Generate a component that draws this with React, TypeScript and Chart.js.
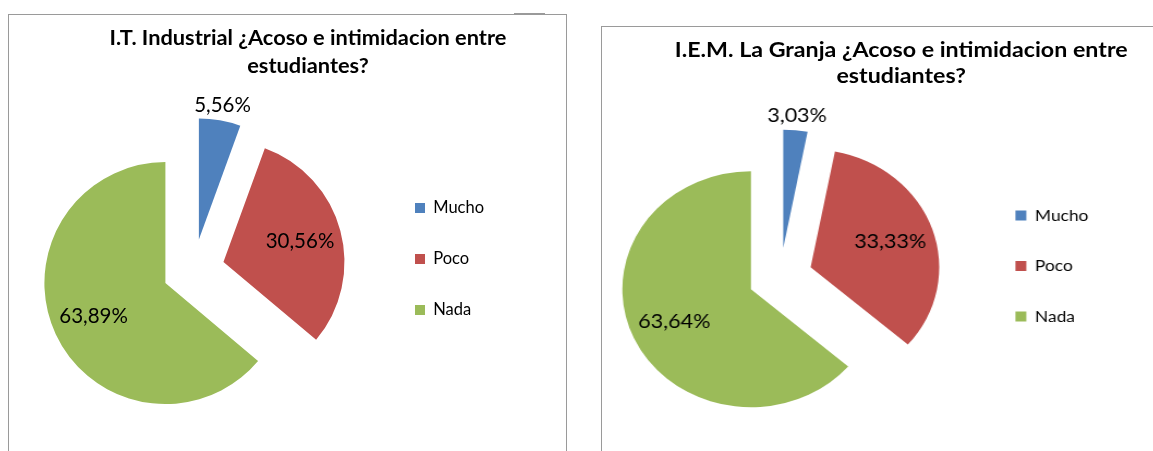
import { useEffect, useRef } from 'react';
import { Chart, registerables } from 'chart.js';

Chart.register(...registerables);

// ---- data ----
const categories = ['Mucho', 'Poco', 'Nada'];
const industrialValues = [5.56, 30.56, 63.89];
const granjaValues = [3.03, 33.33, 63.64];
const industrialTitle = ['I.T. Industrial ¿Acoso e intimidacion entre', 'estudiantes?'];
const granjaTitle = ['I.E.M. La Granja ¿Acoso e intimidacion entre', 'estudiantes?'];
const sliceColors = ['#4F81BD', '#C0504D', '#9BBB59'];

const FONT = 'Lato, "Open Sans", sans-serif';

type PanelCfg = {
  left: number;
  top: number;
  scaleX: number;
  width: number;
  height: number;
  pieX: number;
  pieY: number;
  radius: number;
  explode: number;
  legendX: number;
  legendY: number;
  legendStep: number;
  legendFont: number;
  labelFont: number;
  titleX: number;
  titleTop: number;
  titleFont: number;
  titleLine: number;
};

const leftCfg: PanelCfg = {
  left: 0,
  top: 15,
  scaleX: 1,
  width: 566,
  height: 436,
  pieX: 193.5,
  pieY: 255,
  radius: 121,
  explode: 31,
  legendX: 415,
  legendY: 193,
  legendStep: 51,
  legendFont: 16.5,
  labelFont: 20.5,
  titleX: 308,
  titleTop: 8.2,
  titleFont: 21.8,
  titleLine: 27.6,
};

const rightCfg: PanelCfg = {
  left: 579,
  top: 27,
  scaleX: 1.09,
  width: 527,
  height: 424,
  pieX: 184.6,
  pieY: 250,
  radius: 118,
  explode: 29.5,
  legendX: 400.4,
  legendY: 188.4,
  legendStep: 50.5,
  legendFont: 15.9,
  labelFont: 19.8,
  titleX: 295.6,
  titleTop: 8.5,
  titleFont: 21.3,
  titleLine: 26.7,
};

const formatPct = (v: number) => v.toFixed(2).replace('.', ',') + '%';

// moves every slice outward along its mid angle (exploded pie)
const explodePlugin = {
  id: 'explode',
  afterDatasetUpdate(_chart: any, args: any, opts: any) {
    const d = (opts && opts.distance) || 0;
    args.meta.data.forEach((el: any) => {
      const mid = (el.startAngle + el.endAngle) / 2;
      el.x += Math.cos(mid) * d;
      el.y += Math.sin(mid) * d;
    });
  },
};

// percentage labels: inside for large slices, outside for small ones
const sliceLabelPlugin = {
  id: 'sliceLabels',
  afterDatasetsDraw(chart: any, _args: any, opts: any) {
    const ctx = chart.ctx as CanvasRenderingContext2D;
    const meta = chart.getDatasetMeta(0);
    const data = chart.data.datasets[0].data as number[];
    const total = data.reduce((a, b) => a + b, 0);
    ctx.save();
    ctx.font = `${opts.size}px ${FONT}`;
    ctx.fillStyle = '#000000';
    ctx.textAlign = 'center';
    ctx.textBaseline = 'middle';
    meta.data.forEach((el: any, i: number) => {
      const mid = (el.startAngle + el.endAngle) / 2;
      const share = data[i] / total;
      const dist = share < 0.1 ? el.outerRadius + opts.outside : el.outerRadius * opts.inside;
      ctx.fillText(formatPct(data[i]), el.x + Math.cos(mid) * dist, el.y + Math.sin(mid) * dist);
    });
    ctx.restore();
  },
};

function PiePanel({ cfg, values, title }: { cfg: PanelCfg; values: number[]; title: string[] }) {
  const ref = useRef<HTMLCanvasElement>(null);

  useEffect(() => {
    const canvas = ref.current!;
    const ctx = canvas.getContext('2d')!;
    ctx.font = `${cfg.legendFont}px ${FONT}`;
    const textW = Math.max(...categories.map((c) => ctx.measureText(c).width));
    const boxW = 10;
    const pad = cfg.legendStep - cfg.legendFont;
    const spanR = cfg.legendX + boxW + cfg.legendFont / 2 + textW + 10;
    const legendLeft = cfg.legendX - pad;
    const top = cfg.legendY - pad - cfg.legendFont / 2;
    const padding = {
      left: 2 * cfg.pieX - legendLeft,
      right: cfg.width - spanR,
      top,
      bottom: cfg.height + top - 2 * cfg.pieY,
    };

    const chart = new Chart(canvas, {
      type: 'pie',
      data: {
        labels: categories,
        datasets: [
          {
            data: values,
            backgroundColor: sliceColors,
            borderWidth: 0,
            radius: cfg.radius,
            clip: false,
            hoverOffset: 0,
          } as any,
        ],
      },
      options: {
        responsive: false,
        animation: false,
        events: [],
        layout: { padding },
        plugins: {
          title: { display: false },
          tooltip: { enabled: false },
          legend: {
            position: 'right',
            align: 'start',
            labels: {
              boxWidth: boxW,
              boxHeight: 10,
              padding: pad,
              color: '#000000',
              font: { family: FONT, size: cfg.legendFont },
            },
          },
          explode: { distance: cfg.explode },
          sliceLabels: { size: cfg.labelFont, inside: 0.655, outside: 15 },
        } as any,
      },
      plugins: [explodePlugin, sliceLabelPlugin],
    });
    return () => chart.destroy();
  }, [cfg, values]);

  return (
    <div
      style={{
        position: 'absolute',
        left: cfg.left,
        top: cfg.top,
        width: cfg.width,
        height: cfg.height,
        transform: `scaleX(${cfg.scaleX})`,
        transformOrigin: '0 0',
      }}
    >
      <canvas
        ref={ref}
        width={cfg.width}
        height={cfg.height}
        style={{ position: 'absolute', left: 0, top: 0, width: cfg.width, height: cfg.height }}
      />
      <div
        style={{
          position: 'absolute',
          left: cfg.titleX - 300,
          width: 600,
          top: cfg.titleTop,
          textAlign: 'center',
          fontFamily: FONT,
          fontWeight: 'bold',
          fontSize: cfg.titleFont,
          lineHeight: `${cfg.titleLine}px`,
          color: '#000000',
          whiteSpace: 'nowrap',
        }}
      >
        {title.map((t) => (
          <div key={t}>{t}</div>
        ))}
      </div>
    </div>
  );
}

export default function App() {
  const border = '1px solid #9a9a9a';
  return (
    <div
      style={{
        position: 'absolute',
        left: 0,
        top: 0,
        width: 1153,
        height: 451,
        overflow: 'hidden',
        background: '#ffffff',
      }}
    >
      <div
        style={{
          position: 'absolute',
          left: 8,
          top: 14,
          width: 559,
          height: 520,
          border,
          boxSizing: 'border-box',
        }}
      />
      <div style={{ position: 'absolute', left: 514, top: 13, width: 31, height: 1, background: '#9a9a9a' }} />
      <div
        style={{
          position: 'absolute',
          left: 601,
          top: 26,
          width: 700,
          height: 520,
          border,
          boxSizing: 'border-box',
        }}
      />
      <PiePanel cfg={leftCfg} values={industrialValues} title={industrialTitle} />
      <PiePanel cfg={rightCfg} values={granjaValues} title={granjaTitle} />
    </div>
  );
}
